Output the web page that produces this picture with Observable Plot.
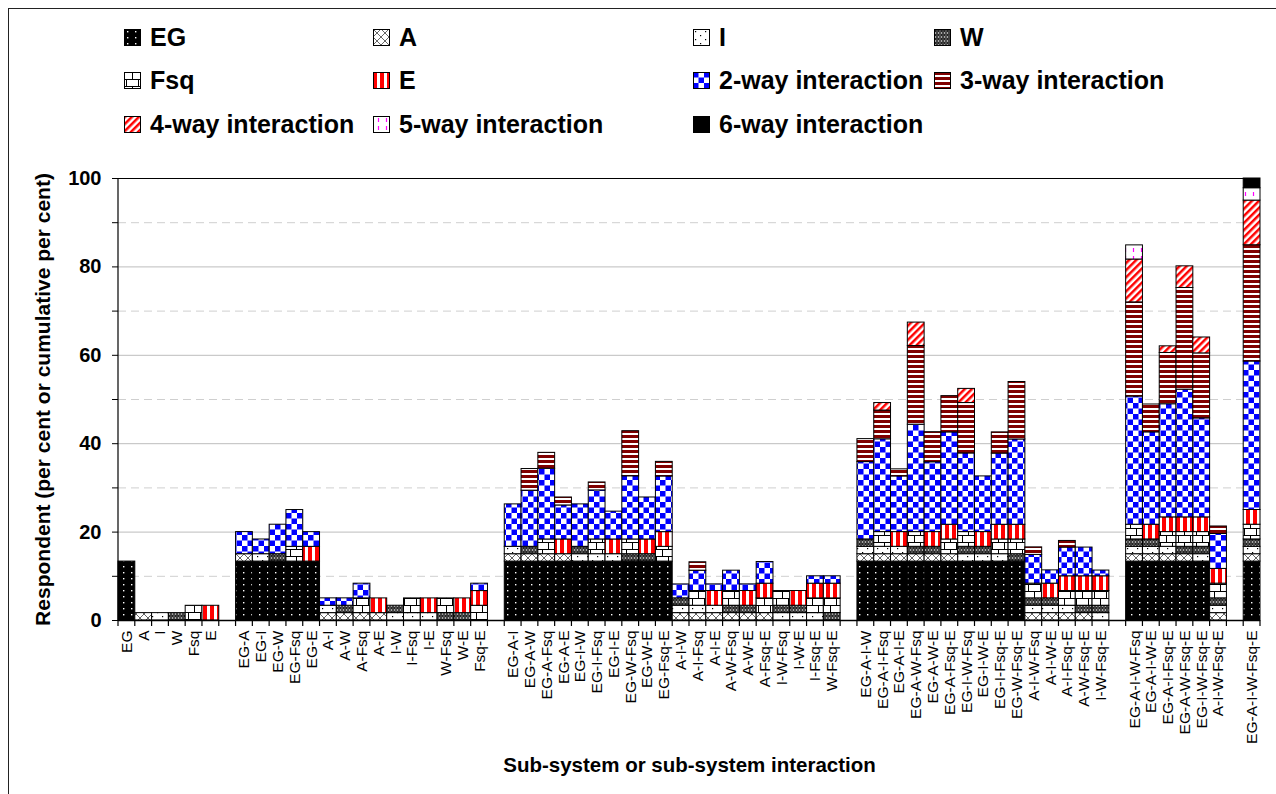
<!DOCTYPE html>
<html><head><meta charset="utf-8">
<script src="https://cdn.jsdelivr.net/npm/d3@7"></script>
<script src="https://cdn.jsdelivr.net/npm/@observablehq/plot@0.6"></script>
<style>
html,body{margin:0;padding:0;background:#fff;overflow:hidden;width:1276px;height:794px;}
body{font-family:"Liberation Sans",Arial,sans-serif;color:#000;position:relative;}
#frame{position:absolute;left:8px;top:8px;width:1400px;height:900px;border-left:1.5px solid #222;border-top:1.5px solid #222;}
#legend{position:absolute;left:0;top:0;width:1276px;height:150px;}
.item{position:absolute;display:flex;align-items:center;height:30px;font-weight:bold;font-size:25px;white-space:nowrap;}
.item svg{margin-right:9px;flex:none;}
#chart{position:absolute;left:0;top:150px;}
</style></head><body>
<svg width="0" height="0" style="position:absolute;left:0;top:0" aria-hidden="true">
<defs>
<pattern id="p-eg" patternUnits="userSpaceOnUse" width="8" height="6"><rect width="8" height="6" fill="#000"/><rect x="3" y="2" width="1.4" height="1.4" fill="#fff"/></pattern>
<pattern id="p-a" patternUnits="userSpaceOnUse" width="8" height="8"><rect width="8" height="8" fill="#fff"/><path d="M0,0L8,8M8,0L0,8" stroke="#555" stroke-width="0.9"/></pattern>
<pattern id="p-i" patternUnits="userSpaceOnUse" width="10" height="8"><rect width="10" height="8" fill="#fff"/><rect x="2" y="2" width="1.2" height="1.2" fill="#000"/><rect x="7" y="6" width="1.2" height="1.2" fill="#000"/></pattern>
<pattern id="p-w" patternUnits="userSpaceOnUse" width="6" height="4"><rect width="6" height="4" fill="#bbb"/><path d="M0,0.5L3,3.5L6,0.5M0,3.5L3,0.5L6,3.5" stroke="#222" stroke-width="1.2" fill="none"/></pattern>
<pattern id="p-fsq" patternUnits="userSpaceOnUse" width="12" height="14"><rect width="12" height="14" fill="#fff"/><path d="M0,0.5H12M0,7.5H12M8.5,0V7.5M2.5,7.5V14" stroke="#000" stroke-width="1"/></pattern>
<pattern id="p-e" patternUnits="userSpaceOnUse" width="7" height="4"><rect width="7" height="4" fill="#fff"/><rect width="4" height="4" fill="#ff0000"/></pattern>
<pattern id="p-2" patternUnits="userSpaceOnUse" width="11" height="11"><rect width="11" height="11" fill="#fff"/><rect width="5.5" height="5.5" fill="#0000ff"/><rect x="5.5" y="5.5" width="5.5" height="5.5" fill="#0000ff"/></pattern>
<pattern id="p-3" patternUnits="userSpaceOnUse" width="4" height="5"><rect width="4" height="5" fill="#fff"/><rect width="4" height="3" fill="#800000"/></pattern>
<pattern id="p-4" patternUnits="userSpaceOnUse" width="5" height="5" patternTransform="rotate(45)"><rect width="5" height="5" fill="#fff"/><rect width="2.5" height="5" fill="#ff0000"/></pattern>
<pattern id="p-5" patternUnits="userSpaceOnUse" width="8" height="8"><rect width="8" height="8" fill="#fff"/><path d="M5.5,2V6" stroke="#ff00ff" stroke-width="1.2"/></pattern>
</defs></svg>
<div id="frame"></div>
<div id="legend"></div>
<div id="chart"></div>
<script>
// ---- data ----
const singles = ["EG", "A", "I", "W", "Fsq", "E"];
const singleValues = [13.33, 1.67, 1.67, 1.67, 3.33, 3.33];

const combos = [
  "EG-A","EG-I","EG-W","EG-Fsq","EG-E","A-I","A-W","A-Fsq","A-E","I-W","I-Fsq","I-E","W-Fsq","W-E","Fsq-E",
  "EG-A-I","EG-A-W","EG-A-Fsq","EG-A-E","EG-I-W","EG-I-Fsq","EG-I-E","EG-W-Fsq","EG-W-E","EG-Fsq-E",
  "A-I-W","A-I-Fsq","A-I-E","A-W-Fsq","A-W-E","A-Fsq-E","I-W-Fsq","I-W-E","I-Fsq-E","W-Fsq-E",
  "EG-A-I-W","EG-A-I-Fsq","EG-A-I-E","EG-A-W-Fsq","EG-A-W-E","EG-A-Fsq-E","EG-I-W-Fsq","EG-I-W-E","EG-I-Fsq-E","EG-W-Fsq-E",
  "A-I-W-Fsq","A-I-W-E","A-I-Fsq-E","A-W-Fsq-E","I-W-Fsq-E",
  "EG-A-I-W-Fsq","EG-A-I-W-E","EG-A-I-Fsq-E","EG-A-W-Fsq-E","EG-I-W-Fsq-E","A-I-W-Fsq-E",
  "EG-A-I-W-Fsq-E"
];
const way2 = [
  5, 3.33, 6.67, 8.33, 3.33, 1.67, 1.67, 3.33, 0, 0, 0, 0, 0, 0, 1.67,
  9.6, 12.7, 16.0, 7.7, 9.6, 11.1, 6.3, 14.3, 9.5, 12.6,
  3.15, 4.6, 1.5, 4.6, 1.5, 4.9, 0, 0, 1.67, 1.67,
  17.5, 21.0, 12.6, 24.3, 15.8, 20.9, 17.8, 12.6, 16.1, 19.3,
  6.5, 3.0, 6.5, 6.5, 1.3,
  29.0, 20.9, 25.6, 28.9, 22.4, 7.9,
  33.6
];
const way3 = [
  0,0,0,0,0,0,0,0,0,0,0,0,0,0,0,
  0, 4.9, 3.6, 1.8, 0, 1.8, 0, 10.2, 0, 3.3,
  0, 1.9, 0, 0, 0, 0, 0, 0, 0, 0,
  5.2, 6.5, 1.6, 17.8, 6.8, 8.2, 11.4, 0, 4.8, 13.0,
  1.7, 0, 1.5, 0, 0,
  21.3, 6.3, 11.6, 23.0, 14.7, 1.7,
  26.3
];
const way4 = [
  0,0,0,0,0,0,0,0,0,0,0,0,0,0,0,
  0,0,0,0,0,0,0,0,0,0,0,0,0,0,0,0,0,0,0,0,
  0, 1.7, 0, 5.3, 0, 0, 3.2, 0, 0, 0, 0, 0, 0, 0, 0,
  9.7, 0, 1.5, 4.9, 3.6, 0,
  10.1
];
const way5 = [
  0,0,0,0,0,0,0,0,0,0,0,0,0,0,0,
  0,0,0,0,0,0,0,0,0,0,0,0,0,0,0,0,0,0,0,0,
  0,0,0,0,0,0,0,0,0,0,0,0,0,0,0,
  3.2, 0, 0, 0, 0, 0,
  2.8
];
const way6 = [
  0,0,0,0,0,0,0,0,0,0,0,0,0,0,0,
  0,0,0,0,0,0,0,0,0,0,0,0,0,0,0,0,0,0,0,0,
  0,0,0,0,0,0,0,0,0,0,0,0,0,0,0,
  0,0,0,0,0,0,
  2.2
];
const interactionNames = ["2-way interaction","3-way interaction","4-way interaction","5-way interaction","6-way interaction"];
const yMajorTicks = [0, 20, 40, 60, 80, 100];
const yMinorTicks = [10, 30, 50, 70, 90];
const yTitle = "Respondent (per cent or cumulative per cent)";
const xTitle = "Sub-system or sub-system interaction";

// ---- styles ----
const components = [...singles, ...interactionNames];
const componentFills = ["url(#p-eg)","url(#p-a)","url(#p-i)","url(#p-w)","url(#p-fsq)","url(#p-e)",
  "url(#p-2)","url(#p-3)","url(#p-4)","url(#p-5)","#000"];

// ---- build x domain with gaps between groups ----
const domain = [...singles];
let prevSize = 1;
combos.forEach(c => {
  const k = c.split("-").length;
  if (k !== prevSize) { domain.push("gap" + k); prevSize = k; }
  domain.push(c);
});

// ---- long table ----
const rows = [];
singles.forEach((s, i) => rows.push({cat: s, comp: s, value: singleValues[i]}));
combos.forEach((c, j) => {
  const parts = c.split("-");
  singles.forEach((s, i) => { if (parts.includes(s)) rows.push({cat: c, comp: s, value: singleValues[i]}); });
  [way2, way3, way4, way5, way6].forEach((arr, m) => {
    if (arr[j] > 0) rows.push({cat: c, comp: interactionNames[m], value: arr[j]});
  });
});

// ---- legend ----
const legendOrder = ["EG","A","I","W","Fsq","E","2-way interaction","3-way interaction","4-way interaction","5-way interaction","6-way interaction"];
const colX = [124, 373, 693, 934];
const rowY = [22, 65, 109];
const legend = document.getElementById("legend");
legendOrder.forEach((name, k) => {
  const r = Math.floor(k / 4), c = k % 4;
  const fill = componentFills[components.indexOf(name)];
  const div = document.createElement("div");
  div.className = "item";
  div.style.left = colX[c] + "px";
  div.style.top = rowY[r] + "px";
  div.innerHTML = `<svg width="17" height="17"><rect x="0.5" y="0.5" width="16" height="16" fill="${fill}" stroke="#000" stroke-width="1"/></svg><span>${name}</span>`;
  legend.appendChild(div);
});

// ---- chart ----
const chart = Plot.plot({
  width: 1276,
  height: 644,
  marginLeft: 118,
  marginRight: 16,
  marginTop: 28,
  marginBottom: 174,
  x: {domain, padding: 0},
  y: {domain: [0, 100]},
  color: {domain: components, range: componentFills},
  style: {fontFamily: "'Liberation Sans', Arial, sans-serif", color: "#000", background: "transparent", overflow: "visible"},
  marks: [
    Plot.ruleY(yMinorTicks, {stroke: "#cfcfcf", strokeDasharray: "8,5", strokeWidth: 1}),
    Plot.ruleY(yMajorTicks.filter(d => d > 0 && d < 100), {stroke: "#bdbdbd", strokeWidth: 1}),
    Plot.ruleY([100], {stroke: "#000", strokeWidth: 1}),
    Plot.barY(rows, {x: "cat", y: "value", fill: "comp", stroke: "#000", strokeWidth: 1, inset: 0}),
    Plot.ruleY([0], {stroke: "#000", strokeWidth: 1.5}),
    Plot.axisY({ticks: [...yMajorTicks, ...yMinorTicks], tickSize: 6, tickPadding: 11, fontSize: 20, fontWeight: "bold",
      tickFormat: d => (d % 20 === 0 ? String(d) : ""), label: null, stroke: "#000"}),
    Plot.axisX({tickSize: 0, tickRotate: -90, tickPadding: 10, fontSize: 15.5,
      tickFormat: d => (d.startsWith("gap") ? "" : d), label: null}),
    Plot.text([yTitle], {text: d => d, frameAnchor: "left", dx: -75, rotate: -90, textAnchor: "middle", lineAnchor: "middle", fontSize: 21, fontWeight: "bold"}),
    Plot.text([xTitle], {text: d => d, frameAnchor: "bottom", dy: 145, textAnchor: "middle", lineAnchor: "middle", fontSize: 20.5, fontWeight: "bold"})
  ]
});

// y axis line and category boundary ticks, positioned by Plot's scales
const xs = chart.scale("x"), ys = chart.scale("y");
const svg = d3.select(chart);
const g = svg.append("g").attr("stroke", "#000").attr("stroke-width", 1.2);
const y0 = ys.apply(0), y100 = ys.apply(100);
const left = xs.apply(domain[0]);
g.append("line").attr("x1", left).attr("x2", left).attr("y1", y0).attr("y2", y100);
const bounds = domain.map(d => xs.apply(d));
bounds.push(xs.apply(domain[domain.length - 1]) + xs.bandwidth);
bounds.forEach(x => g.append("line").attr("x1", x).attr("x2", x).attr("y1", y0).attr("y2", y0 + 6));

document.getElementById("chart").appendChild(chart);
</script>
</body></html>
